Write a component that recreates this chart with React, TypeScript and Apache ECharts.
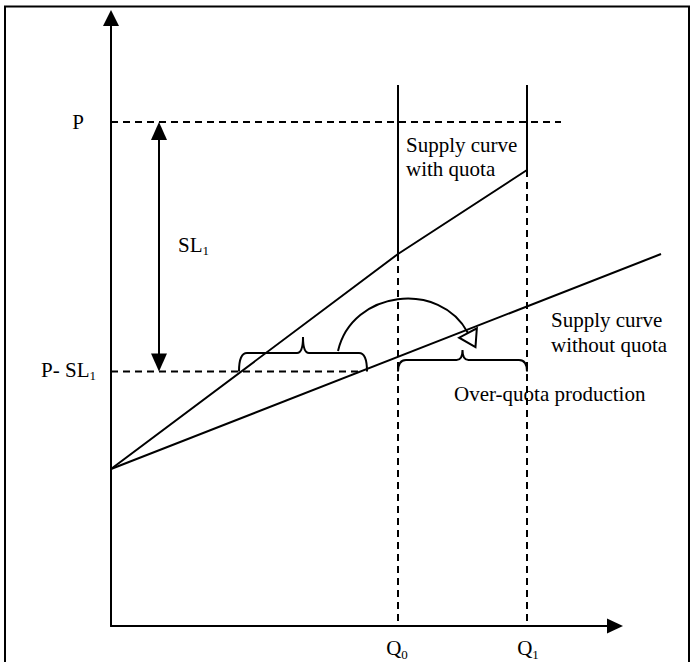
import React, { useEffect, useRef } from "react";
import * as echarts from "echarts";

// ---- Data (arbitrary units: quantity on x, price on y) ----
const axisMaxQuantity = 126;
const axisMaxPrice = 152;
const quantityLabels = ["Q0", "Q1"];
const quotaQuantities = [71.75, 104]; // Q0, Q1
const priceLabels = ["P", "P- SL1"];
const priceLevels = [126, 63.6]; // P, P - SL1
const withQuotaQ = [0, 71.75, 104];
const withQuotaP = [39.25, 93, 114];
const withoutQuotaQ = [0, 137.5];
const withoutQuotaP = [39.25, 93];
const quotaVerticalTop = 135.25;
const pLineEndQ = 112.5;
const pslLineEndQ = 63;
const slArrowQ = 12;
const leftBraceSpan = [32, 64];
const rightBraceSpan = [71.75, 104];
const transferCurve = [
  [56.75, 68.75],
  [60.25, 84],
  [82.25, 86.5],
  [89.25, 73.25],
];

const FONT = "'Liberation Serif', 'Times New Roman', serif";
const BLACK = "#000";

export default function App() {
  const ref = useRef<HTMLDivElement>(null);

  useEffect(() => {
    if (!ref.current) return;
    const chart = echarts.init(ref.current, null, { renderer: "svg" });

    const [Q0, Q1] = quotaQuantities;
    const [P, PSL] = priceLevels;

    const lineSeries = (name: string, data: number[][], dashed = false) => ({
      name,
      type: "line",
      data,
      symbol: "none",
      silent: true,
      lineStyle: { color: BLACK, width: 2, type: dashed ? [7, 5] : "solid" },
      emphasis: { disabled: true },
      z: 3,
    });

    const withQuota = withQuotaQ.map((q, i) => [q, withQuotaP[i]]);
    const withoutQuota = withoutQuotaQ.map((q, i) => [q, withoutQuotaP[i]]);

    const option: any = {
      animation: false,
      backgroundColor: "#fff",
      grid: { left: 111, top: 18, right: 82, bottom: 36 },
      xAxis: {
        type: "value",
        min: 0,
        max: axisMaxQuantity,
        axisLine: {
          show: true,
          onZero: false,
          symbol: ["none", "triangle"],
          symbolSize: [15, 16],
          lineStyle: { color: BLACK, width: 2 },
        },
        axisTick: { show: false },
        axisLabel: { show: false },
        splitLine: { show: false },
      },
      yAxis: {
        type: "value",
        min: 0,
        max: axisMaxPrice,
        axisLine: {
          show: true,
          onZero: false,
          symbol: ["none", "triangle"],
          symbolSize: [16, 16],
          lineStyle: { color: BLACK, width: 2 },
        },
        axisTick: { show: false },
        axisLabel: { show: false },
        splitLine: { show: false },
      },
      graphic: [
        {
          type: "rect",
          shape: { x: 5, y: 6.5, width: 684, height: 660 },
          style: { fill: "none", stroke: BLACK, lineWidth: 2 },
          silent: true,
        },
      ],
      series: [
        lineSeries("Supply curve with quota", withQuota),
        lineSeries("Q0 quota", [[Q0, quotaVerticalTop], [Q0, withQuotaP[1]]]),
        lineSeries("Q1 quota", [[Q1, quotaVerticalTop], [Q1, withQuotaP[2]]]),
        lineSeries("Q0 guide", [[Q0, withQuotaP[1]], [Q0, 0]], true),
        lineSeries("Q1 guide", [[Q1, withQuotaP[2]], [Q1, 0]], true),
        lineSeries("P guide", [[0, P], [pLineEndQ, P]], true),
        lineSeries("P-SL1 guide", [[0, PSL], [pslLineEndQ, PSL]], true),
        {
          name: "Supply curve without quota",
          type: "custom",
          data: withoutQuota,
          clip: false,
          silent: true,
          z: 3,
          renderItem: (params: any, api: any) => {
            if (params.dataIndex !== 0) return null;
            const pts = withoutQuota.map((p) => api.coord(p));
            return {
              type: "polyline",
              shape: { points: pts },
              style: { stroke: BLACK, fill: "none", lineWidth: 2 },
            };
          },
        },
        {
          name: "annotations",
          type: "custom",
          data: [[0, 0]],
          clip: false,
          silent: true,
          z: 5,
          renderItem: (_params: any, api: any) => {
            const c = (p: number[]) => api.coord(p);
            const origin = c([0, 0]);
            const stroke = { stroke: BLACK, fill: "none", lineWidth: 2 };
            const children: any[] = [];

            const brace = (span: number[], base: number, h1: number, h2: number, r: number) => {
              const a = c([span[0], base]);
              const b = c([span[1], base]);
              const x0 = a[0], x1 = b[0], yb = a[1];
              const yh = yb - h1, yt = yb - h2, xm = (x0 + x1) / 2;
              return `M${x0} ${yb} Q${x0} ${yh} ${x0 + r} ${yh} L${xm - 6} ${yh} Q${xm} ${yh} ${xm} ${yt} Q${xm} ${yh} ${xm + 6} ${yh} L${x1 - r} ${yh} Q${x1} ${yh} ${x1} ${yb}`;
            };
            children.push({ type: "path", shape: { pathData: brace(leftBraceSpan, PSL, 18.5, 34.5, 8) }, style: stroke });
            children.push({ type: "path", shape: { pathData: brace(rightBraceSpan, PSL, 11.5, 21.5, 8) }, style: stroke });

            // curved transfer arrow
            const [s, c1, c2, e] = transferCurve.map(c);
            children.push({
              type: "path",
              shape: { pathData: `M${s[0]} ${s[1]} C${c1[0]} ${c1[1]} ${c2[0]} ${c2[1]} ${e[0]} ${e[1]}` },
              style: stroke,
            });
            const dx = e[0] - c2[0], dy = e[1] - c2[1];
            const len = Math.hypot(dx, dy);
            const ux = dx / len, uy = dy / len;
            const px = uy, py = -ux;
            children.push({
              type: "polygon",
              shape: {
                points: [
                  [e[0] + ux * 16, e[1] + uy * 16],
                  [e[0] + px * 10, e[1] + py * 10],
                  [e[0] - px * 10, e[1] - py * 10],
                ],
              },
              style: stroke,
            });

            // SL1 double arrow
            const top = c([slArrowQ, P]);
            const bot = c([slArrowQ, PSL]);
            const head = 18, half = 8;
            children.push({
              type: "line",
              shape: { x1: top[0], y1: top[1] + head - 1, x2: bot[0], y2: bot[1] - head + 1 },
              style: { stroke: BLACK, lineWidth: 2 },
            });
            children.push({
              type: "polygon",
              shape: { points: [[top[0], top[1]], [top[0] - half, top[1] + head], [top[0] + half, top[1] + head]] },
              style: { fill: BLACK },
            });
            children.push({
              type: "polygon",
              shape: { points: [[bot[0], bot[1]], [bot[0] - half, bot[1] - head], [bot[0] + half, bot[1] - head]] },
              style: { fill: BLACK },
            });

            // texts
            const txt = (text: string, x: number, y: number, align = "left", extra: any = {}) => ({
              type: "text",
              x,
              y,
              style: {
                text,
                fill: BLACK,
                fontSize: 21,
                fontFamily: FONT,
                align,
                verticalAlign: "middle",
                ...extra,
              },
            });
            const rich = {
              m: { fontSize: 21, fontFamily: FONT, fill: BLACK },
              s: { fontSize: 13, fontFamily: FONT, fill: BLACK, verticalAlign: "bottom", padding: [0, 0, -2, 0] },
            };
            const pPix = c([0, P]);
            const pslPix = c([0, PSL]);
            children.push(txt(priceLabels[0], origin[0] - 27, pPix[1], "right"));
            children.push(
              txt(`{m|P- SL}{s|1}`, origin[0] - 15, pslPix[1] - 2, "right", { rich })
            );
            children.push(
              txt(`{m|SL}{s|1}`, top[0] + 19, (top[1] + bot[1]) / 2 - 2, "left", { rich })
            );
            const q0Pix = c([Q0, 0]);
            const q1Pix = c([Q1, 0]);
            children.push(txt(`{m|Q}{s|0}`, q0Pix[0] - 1, origin[1] + 22, "center", { rich }));
            children.push(txt(`{m|Q}{s|1}`, q1Pix[0] + 1, origin[1] + 22, "center", { rich }));
            children.push(
              txt("Supply curve\nwith quota", q0Pix[0] + 8, pPix[1] + 11, "left", { verticalAlign: "top", lineHeight: 24 })
            );
            children.push(
              txt("Supply curve\nwithout quota", q1Pix[0] + 24, pslPix[1] - 64, "left", { verticalAlign: "top", lineHeight: 25 })
            );
            children.push(txt("Over-quota production", q0Pix[0] + 56, pslPix[1] + 22.5));

            return { type: "group", children };
          },
        },
      ],
    };

    chart.setOption(option);
    return () => chart.dispose();
  }, []);

  return (
    <div
      ref={ref}
      style={{ position: "fixed", left: 0, top: 0, width: 697, height: 662, background: "#fff" }}
    />
  );
}
